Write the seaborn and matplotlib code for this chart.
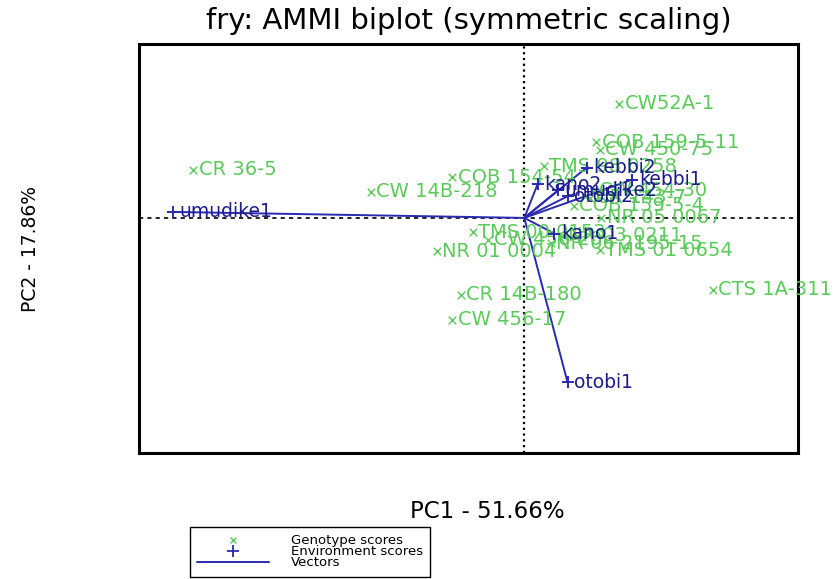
import matplotlib
matplotlib.use("Agg")
import matplotlib.pyplot as plt
from matplotlib.lines import Line2D
import seaborn as sns
import pandas as pd

# Genotype scores (PC1, PC2)
genotypes = ["CW52A-1", "COB 159-5-11", "CW 450-75", "TMS 98 0258", "COB 154-54",
             "CW 14B-218", "CR 36-5", "CW 454-30", "CR 143-7", "COB 159-5-4",
             "NR 05 0067", "TMS 00 0153", "NR 03 0211", "CW 456-20", "NR 06 2195-15",
             "NR 01 0004", "TMS 01 0654", "CTS 1A-311", "CR 14B-180", "CW 456-17"]
gen_pc1 = [0.79, 0.60, 0.63, 0.16, -0.60, -1.28, -2.76, 0.58, 0.55, 0.41,
           0.64, -0.43, 0.32, -0.30, 0.22, -0.73, 0.63, 1.57, -0.53, -0.60]
gen_pc2 = [0.95, 0.63, 0.57, 0.43, 0.34, 0.22, 0.40, 0.23, 0.17, 0.10,
           0.00, -0.12, -0.15, -0.18, -0.21, -0.28, -0.27, -0.60, -0.64, -0.85]

# Environment scores (PC1, PC2)
environments = ["umudike1", "kebbi2", "kano2", "kebbi1", "umudike2", "otobi2", "kano1", "otobi1"]
env_pc1 = [-2.93, 0.52, 0.11, 0.90, 0.28, 0.36, 0.25, 0.36]
env_pc2 = [0.05, 0.42, 0.28, 0.32, 0.23, 0.18, -0.13, -1.37]

title = "fry: AMMI biplot (symmetric scaling)"
xlab = "PC1 - 51.66%"
ylab = "PC2 - 17.86%"
legend_labels = ["Genotype scores", "Environment scores", "Vectors"]

gen_df = pd.DataFrame({"name": genotypes, "PC1": gen_pc1, "PC2": gen_pc2})
env_df = pd.DataFrame({"name": environments, "PC1": env_pc1, "PC2": env_pc2})

GREEN = "#5acb5a"
BLUE = "#2a2ab0"
NAVY = "#1c1c8a"

sns.set_theme(style="white")
plt.rcParams["font.family"] = ["DejaVu Sans"]
plt.rcParams["text.color"] = "black"
plt.rcParams["axes.labelcolor"] = "black"

fig = plt.figure(figsize=(8.36, 5.79), dpi=100)
ax = fig.add_axes([139 / 836, 1 - 453 / 579, (798 - 139) / 836, (453 - 44) / 579])

ax.set_xlim(-3.21, 2.28)
ax.set_ylim(-1.96, 1.45)

# reference lines through the origin
ax.axvline(0, color="black", linestyle=(0, (1, 1.6)), linewidth=1.6, zorder=1)
ax.axhline(0, color="black", linestyle=(0, (2.5, 2.5)), linewidth=1.2, zorder=1)

# environment vectors
for _, r in env_df.iterrows():
    ax.plot([0, r.PC1], [0, r.PC2], color=BLUE, linewidth=1.4, zorder=2)

sns.scatterplot(data=gen_df, x="PC1", y="PC2", marker="x", color=GREEN, s=30,
                linewidth=1.0, ax=ax, zorder=3, legend=False)
sns.scatterplot(data=env_df, x="PC1", y="PC2", marker="+", color=BLUE, s=80,
                linewidth=1.4, ax=ax, zorder=4, legend=False)

for _, r in gen_df.iterrows():
    ax.annotate(r["name"], (r.PC1, r.PC2), xytext=(4, 0), textcoords="offset points",
                ha="left", va="center", fontsize=14, color=GREEN, zorder=3)
for _, r in env_df.iterrows():
    ax.annotate(r["name"], (r.PC1, r.PC2), xytext=(5, 0), textcoords="offset points",
                ha="left", va="center", fontsize=13.5, color=NAVY, zorder=5)

ax.set_xticks([])
ax.set_yticks([])
for sp in ax.spines.values():
    sp.set_visible(True)
    sp.set_color("black")
    sp.set_linewidth(2.2)

ax.set_title(title, fontsize=21, pad=11)
ax.set_xlabel(xlab, fontsize=16.5)
ax.xaxis.set_label_coords((487 - 139) / 659, -(512 - 453) / 409, transform=ax.transAxes)
ax.xaxis.label.set_va("center")
ax.set_ylabel(ylab, fontsize=13.5)
ax.yaxis.set_label_coords(-(139 - 30) / 659, 0.5, transform=ax.transAxes)
ax.yaxis.label.set_va("center")

handles = [
    Line2D([], [], linestyle="none", marker="x", color=GREEN, markersize=5, markeredgewidth=1),
    Line2D([], [], linestyle="none", marker="+", color=BLUE, markersize=8, markeredgewidth=1.3),
    Line2D([], [], color=BLUE, linewidth=1.4),
]
fig.legend(handles, legend_labels, loc="upper left",
           bbox_to_anchor=(190 / 836, 1 - 527 / 579), fontsize=9.5,
           frameon=True, fancybox=False, edgecolor="black", framealpha=1,
           labelspacing=-0.15, handlelength=5.4, handletextpad=1.7,
           borderpad=0.55, borderaxespad=0)

fig.savefig("out.png", dpi=100)
